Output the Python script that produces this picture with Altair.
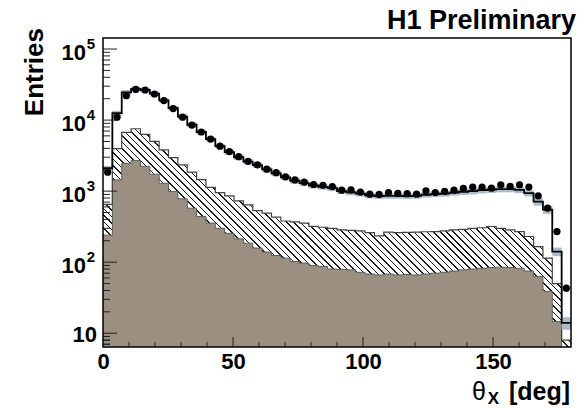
import math
import altair as alt
import pandas as pd

# ---------------- data ----------------
bin_width = 3.6
n_bins = 50

data_vals = [1850, 11000, 22000, 27000, 26500, 23300, 18800, 14500, 11000, 8500,
             6800, 5400, 4300, 3600, 3050, 2630, 2350, 2040, 1820, 1590,
             1440, 1340, 1240, 1210, 1160, 1030, 1040, 970, 905, 900,
             955, 930, 920, 905, 1010, 955, 990, 1030, 1090, 1140,
             1140, 1100, 1230, 1170, 1230, 1140, 860, 578, 270, 43]

mc_total = [2100, 12500, 24500, 27500, 26500, 23500, 19000, 14700, 11200, 8600,
            6800, 5400, 4300, 3550, 3000, 2600, 2330, 2020, 1780, 1560,
            1400, 1300, 1200, 1150, 1100, 1000, 960, 920, 870, 850,
            860, 860, 850, 860, 890, 910, 920, 950, 980, 1000,
            1030, 1050, 1070, 1070, 1040, 935, 710, 550, 141, 14]

mc_rel_err = [0.08] * 13 + [0.09] * 25 + [0.10] * 8 + [0.12, 0.13, 0.14, 0.20]

hatch_top = [650, 3960, 6700, 7550, 6300, 5000, 3800, 2960, 2340, 1850,
             1450, 1130, 950, 860, 730, 640, 530, 490, 430, 380,
             370, 355, 320, 310, 300, 285, 280, 275, 260, 235,
             265, 260, 262, 265, 268, 270, 275, 285, 290, 300,
             305, 318, 300, 285, 270, 230, 166, 114, 50, 8]

brown_top = [240, 1440, 2460, 2690, 2240, 1730, 1290, 990, 780, 575,
             440, 355, 300, 255, 213, 185, 158, 139, 124, 114,
             102, 97, 90, 87, 80, 79, 78, 72, 68, 66,
             68, 66, 67, 66, 68, 70, 72, 75, 78, 80,
             82, 84, 85, 84, 82, 75, 63, 39, 14.6, 1]

y_decades = [100, 1000, 10000, 100000]
y_exponents = ["2", "3", "4", "5"]
x_tick_labels = [0, 50, 100, 150]

# ---------------- layout / style ----------------
W, H = 468, 309
Y_MIN, Y_MAX = 6.4, 1.43e5
X_MIN, X_MAX = 0, 180
Y_FLOOR = 1  # histogram baseline, below the visible range
BROWN = "#9b8f82"
BAND = "#a9bccb"
FONT = "Liberation Sans"

edges = [round(i * bin_width, 4) for i in range(n_bins + 1)]
lo = edges[:-1]
hi = edges[1:]
xc = [(a + b) / 2 for a, b in zip(lo, hi)]


def step_df(**cols):
    d = {"x": edges}
    for k, v in cols.items():
        d[k] = list(v) + [v[-1]]
    return pd.DataFrame(d)


hist_df = step_df(brown=brown_top, hatch=hatch_top, total=mc_total,
                  floor=[Y_FLOOR] * n_bins)
bins_df = pd.DataFrame({
    "lo": lo, "hi": hi, "xc": xc, "data": data_vals,
    "blo": [m * (1 - e) for m, e in zip(mc_total, mc_rel_err)],
    "bhi": [m * (1 + e) for m, e in zip(mc_total, mc_rel_err)],
})

xscale = alt.Scale(domain=[X_MIN, X_MAX], nice=False, zero=False)
yscale = alt.Scale(type="log", domain=[Y_MIN, Y_MAX], nice=False)
xaxis = alt.Axis(values=x_tick_labels, labelFontSize=22, labelFont=FONT,
                 labelFontWeight="bold", labelColor="black", ticks=False,
                 domain=False, grid=False, labelPadding=4, labelFlush=False,
                 labelOverlap=False)


def X(field):
    return alt.X(field, scale=xscale, axis=xaxis, title=None)


def Y(field):
    return alt.Y(field, scale=yscale, axis=None)


# hatch fill as a striped gradient (45 degree "\" lines)
L = math.log10(Y_MAX) - math.log10(Y_MIN)


def ypx(v):
    return (math.log10(Y_MAX) - math.log10(v)) / L * H


box_top = min(ypx(v) for v in hatch_top)
box_bot = max(ypx(v) for v in brown_top)
BH = box_bot - box_top
r = BH / W
u2 = (1 + r) / (1 + r * r)
v2 = 1 - r * (1 + r) / (1 + r * r)
spacing = 6.5
n_str = int(round((W + BH) / spacing))
perp = (W + BH) / math.sqrt(2) / n_str
frac = 1.1 / perp / n_str
stops = []
for k in range(n_str):
    s = k / n_str
    e = s + frac
    stops += [alt.GradientStop(color="white", offset=round(s, 6)),
              alt.GradientStop(color="#1a1a1a", offset=round(s, 6)),
              alt.GradientStop(color="#1a1a1a", offset=round(e, 6)),
              alt.GradientStop(color="white", offset=round(e, 6))]
hatch_fill = alt.Gradient(gradient="linear", stops=stops,
                          x1=0, y1=1, x2=round(u2, 6), y2=round(v2, 6))

base_hist = alt.Chart(hist_df)

brown_area = base_hist.mark_area(interpolate="step-after", color=BROWN, opacity=1, clip=True).encode(
    x=X("x:Q"), y=Y("brown:Q"), y2="floor:Q")
hatch_area = base_hist.mark_area(interpolate="step-after", fill=hatch_fill, opacity=1, clip=True).encode(
    x=X("x:Q"), y=Y("hatch:Q"), y2="brown:Q")
brown_line = base_hist.mark_line(interpolate="step-after", color="#5a5a5a",
                                 strokeWidth=1, clip=True).encode(x=X("x:Q"), y=Y("brown:Q"))
hatch_line = base_hist.mark_line(interpolate="step-after", color="#444444",
                                 strokeWidth=1.2, clip=True).encode(x=X("x:Q"), y=Y("hatch:Q"))

band = alt.Chart(bins_df).mark_rect(color=BAND, opacity=1, clip=True).encode(
    x=X("lo:Q"), x2="hi:Q", y=Y("blo:Q"), y2="bhi:Q")
total_line = base_hist.mark_line(interpolate="step-after", color="black",
                                 strokeWidth=1.8, clip=True).encode(x=X("x:Q"), y=Y("total:Q"))
points = alt.Chart(bins_df).mark_circle(size=52, color="black", opacity=1, clip=True).encode(
    x=X("xc:Q"), y=Y("data:Q"))

# ticks (drawn inward, ROOT style)
y_major = [10, 100, 1000, 10000, 100000]
y_minor = [m * d for d in [1, 10, 100, 1000, 10000] for m in range(2, 10)
           if Y_MIN <= m * d <= Y_MAX] + [7, 8, 9]
x_major = [50, 100, 150]
x_minor = [v for v in range(10, 180, 10) if v not in x_major]

ytick_major = alt.Chart(pd.DataFrame({"v": y_major})).mark_rule(color="#222222", strokeWidth=1).encode(
    y=Y("v:Q"), x=alt.value(0), x2=alt.value(14))
ytick_minor = alt.Chart(pd.DataFrame({"v": y_minor})).mark_rule(color="#222222", strokeWidth=1).encode(
    y=Y("v:Q"), x=alt.value(0), x2=alt.value(7))
xtick_major = alt.Chart(pd.DataFrame({"v": x_major})).mark_rule(color="#222222", strokeWidth=1).encode(
    x=X("v:Q"), y=alt.value(H), y2=alt.value(H - 10))
xtick_minor = alt.Chart(pd.DataFrame({"v": x_minor})).mark_rule(color="#222222", strokeWidth=1).encode(
    x=X("v:Q"), y=alt.value(H), y2=alt.value(H - 5))

dummy = pd.DataFrame({"a": [0]})
frame = alt.Chart(dummy).mark_rect(filled=False, stroke="black", strokeWidth=1.5).encode(
    x=alt.value(0), x2=alt.value(W), y=alt.value(0), y2=alt.value(H))

# y tick labels: 10, 10^2 ... 10^5
ylab_df = pd.DataFrame({"v": y_decades, "e": y_exponents})
ylab_base = alt.Chart(ylab_df).mark_text(text="10", align="right", baseline="middle", dy=4,
                                         fontSize=22, font=FONT, fontWeight="bold", color="black").encode(
    y=Y("v:Q"), x=alt.value(-17))
ylab_exp = alt.Chart(ylab_df).mark_text(align="right", baseline="middle", dy=-5,
                                        fontSize=15, font=FONT, fontWeight="bold", color="black").encode(
    y=Y("v:Q"), x=alt.value(-8), text="e:N")
ylab_ten = alt.Chart(pd.DataFrame({"v": [10]})).mark_text(
    text="10", align="right", baseline="middle", dy=2, fontSize=22, font=FONT,
    fontWeight="bold", color="black").encode(y=Y("v:Q"), x=alt.value(-6))

# titles
entries = alt.Chart(dummy).mark_text(text="Entries", angle=270, align="right", baseline="alphabetic",
                                     fontSize=26, font=FONT, fontWeight="bold", color="black").encode(
    x=alt.value(-60), y=alt.value(-10))
xt_deg = alt.Chart(dummy).mark_text(text="[deg]", align="right", baseline="alphabetic",
                                    fontSize=25, font=FONT, fontWeight="bold", color="black").encode(
    x=alt.value(W - 1), y=alt.value(362))
xt_sub = alt.Chart(dummy).mark_text(text="X", align="right", baseline="alphabetic",
                                    fontSize=17, font=FONT, fontWeight="bold", color="black").encode(
    x=alt.value(396), y=alt.value(366))
xt_theta = alt.Chart(dummy).mark_text(text="θ", align="right", baseline="alphabetic",
                                      fontSize=25, font=FONT, color="black").encode(
    x=alt.value(383), y=alt.value(362))
prelim = alt.Chart(dummy).mark_text(text="H1 Preliminary", align="right", baseline="alphabetic",
                                    fontSize=27, font=FONT, fontWeight="bold", color="black").encode(
    x=alt.value(W + 5), y=alt.value(-9))

chart = alt.layer(
    brown_area, hatch_area, brown_line, hatch_line, band, total_line, points,
    ytick_major, ytick_minor, xtick_major, xtick_minor, frame,
    ylab_base, ylab_exp, ylab_ten, entries, xt_deg, xt_sub, xt_theta, prelim,
).properties(
    width=W, height=H,
    autosize=alt.AutoSizeParams(type="none"),
    padding={"left": 103, "top": 38, "right": 16, "bottom": 61},
    background="white",
).configure_view(stroke=None)

chart.save("out.html", embed_options={"renderer": "svg", "actions": False})
